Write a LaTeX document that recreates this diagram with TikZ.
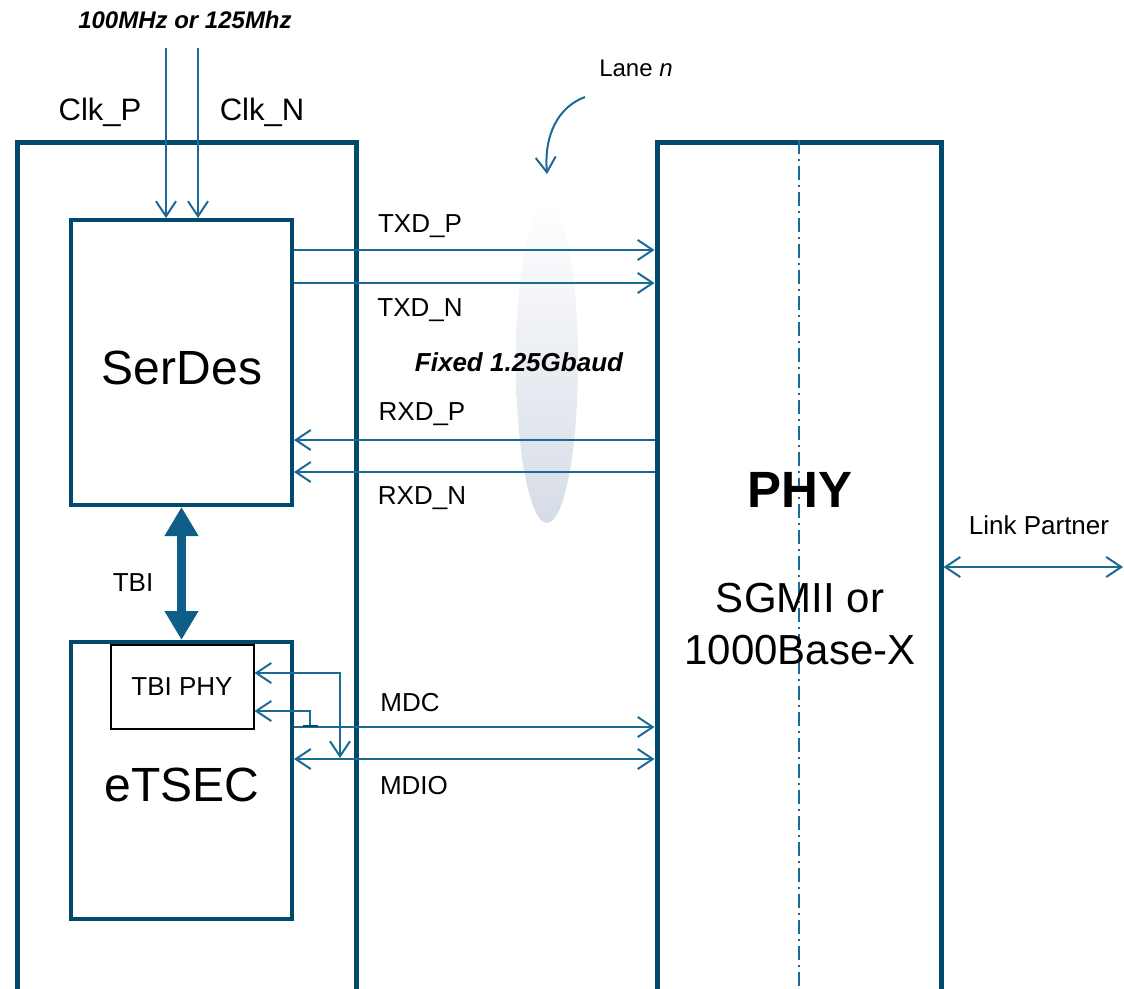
\documentclass[tikz,border=0pt]{standalone}
\usepackage{fontspec}
\setmainfont{Liberation Sans}
\usetikzlibrary{arrows.meta,calc}
\definecolor{frame}{HTML}{004A6C}
\definecolor{wire}{HTML}{1A6A95}
\definecolor{fatwire}{HTML}{0F5E88}
\definecolor{lanemid}{HTML}{BFC9D8}
\definecolor{lanelow}{HTML}{D6DCE6}

\begin{document}
\begin{tikzpicture}[x=1pt,y=-1pt,>={Straight Barb[length=15pt,width=20pt]},
  bigbox/.style={draw=frame,line width=5pt,anchor=north west,inner sep=0pt},
  blockbox/.style={draw=frame,line width=4pt,anchor=north west,inner sep=0pt},
  sig/.style={wire,line width=2pt},
  lbl/.style={font=\fontsize{26}{31}\selectfont,inner sep=0pt}]
 \useasboundingbox (0,0) rectangle (1124,988);
 \clip (0,0) rectangle (1124,988);
 % lane
 \shade[top color=white,middle color=lanemid,bottom color=lanelow] (547,362) ellipse [x radius=31,y radius=161];
 % outer boxes
 \node[bigbox,minimum width=339pt,minimum height=900pt] (soc) at (14.5,139.5) {};
 \node[bigbox,minimum width=284pt,minimum height=900pt] (phy) at (654.5,139.5) {};
 \draw[wire,line width=1.5pt,dash pattern=on 14pt off 5pt on 2pt off 5pt] (phy.north) -- (phy.south);
 % blocks
 \node[blockbox,minimum width=221pt,minimum height=285pt] (serdes) at (69,218) {};
 \node[blockbox,minimum width=221pt,minimum height=277pt] (etsec) at (69,640) {};
 \node[draw=black,line width=1.5pt,anchor=north west,minimum width=143pt,minimum height=84pt] (tbiphy) at (110,644) {};
 \node[font=\fontsize{48}{56}\selectfont] (serdeslabel) at (182,368) {SerDes};
 \node[font=\fontsize{48}{56}\selectfont] (etseclabel) at (182,785) {eTSEC};
 \node[lbl] (tbiphylabel) at (182,687) {TBI PHY};
 \node[font=\fontsize{51}{60}\selectfont\bfseries] (phylabel) at (800,490) {PHY};
 \node[font=\fontsize{42}{52}\selectfont,align=center] (modelabel) at (800,624) {SGMII or\\1000Base-X};
 \node[font=\fontsize{24}{28}\selectfont] (lanelabel) at (636,68) {Lane \textit{n}};
 \coordinate (lanetail) at (585,97);
 \coordinate (lanetip) at (547,174);
 \draw[sig,->] (lanetail) .. controls (558,107) and (544,135) .. (lanetip);
 \node[font=\fontsize{26}{31}\selectfont\bfseries\itshape] (baud) at (519,362) {Fixed 1.25Gbaud};
 % clocks
 \node[font=\fontsize{24}{28}\selectfont\bfseries\itshape] (freq) at (185,20) {100MHz or 125Mhz};
 \node[font=\fontsize{31}{36}\selectfont] (clkp) at (100,112) {Clk\_P};
 \node[font=\fontsize{31}{36}\selectfont] (clkn) at (262,112) {Clk\_N};
 \coordinate (clkPtop) at (166,48);
 \coordinate (clkNtop) at (198,48);
 \draw[sig,->] (clkPtop) -- (clkPtop |- serdes.north);
 \draw[sig,->] (clkNtop) -- (clkNtop |- serdes.north);
 % serial lanes
 \coordinate (txp) at (serdes.east |- 0,250);
 \coordinate (txn) at (serdes.east |- 0,283);
 \coordinate (rxp) at (serdes.east |- 0,440);
 \coordinate (rxn) at (serdes.east |- 0,472);
 \draw[sig,->] (txp) -- (txp -| phy.west);
 \draw[sig,->] (txn) -- (txn -| phy.west);
 \draw[sig,<-] (rxp) -- (rxp -| phy.west);
 \draw[sig,<-] (rxn) -- (rxn -| phy.west);
 \node[lbl] (txplabel) at (420,226) {TXD\_P};
 \node[lbl] (txnlabel) at (420,310) {TXD\_N};
 \node[lbl] (rxplabel) at (422,414) {RXD\_P};
 \node[lbl] (rxnlabel) at (422,498) {RXD\_N};
 % TBI
 \draw[fatwire,line width=9pt,{Triangle[length=29pt,width=32pt]}-{Triangle[length=29pt,width=32pt]}] (serdes.south) -- (etsec.north);
 \node[lbl] (tbilabel) at (133,583) {TBI};
 % management
 \coordinate (mdc) at (etsec.east |- 0,727);
 \coordinate (mdio) at (etsec.east |- 0,759);
 \coordinate (mdctap) at (310,727);
 \coordinate (mdiotap) at (340,758);
 \draw[sig,->] (mdc) -- (mdc -| phy.west);
 \draw[sig,<->] (mdio) -- (mdio -| phy.west);
 \draw[sig,<->] (tbiphy.east |- 0,673) -| (mdiotap);
 \draw[sig,->] (mdctap) |- (tbiphy.east |- 0,711);
 \draw[frame,line width=2.5pt] ($(mdctap)+(-7,-1)$) -- ($(mdctap)+(8,-1)$);
 \node[lbl] (mdclabel) at (410,703) {MDC};
 \node[lbl] (mdiolabel) at (414,786) {MDIO};
 % link partner
 \coordinate (partner) at (1123,567);
 \draw[sig,<->] (phy.east |- partner) -- (partner);
 \node[lbl] (partnerlabel) at (1039,525) {Link Partner};
\end{tikzpicture}
\end{document}
